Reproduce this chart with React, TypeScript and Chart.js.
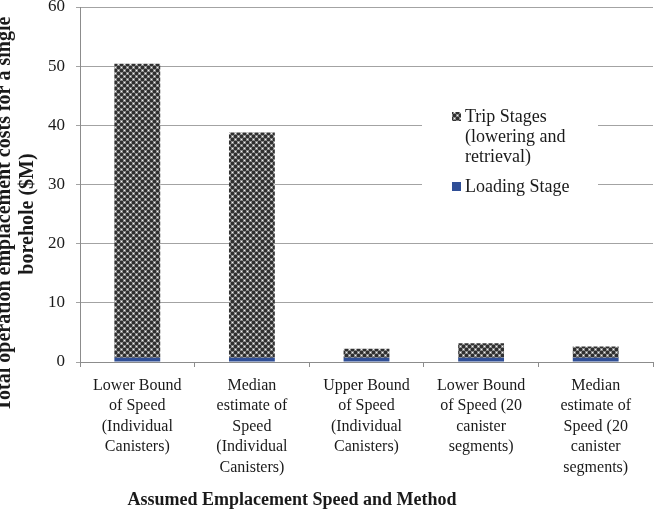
import React, { useEffect, useRef } from "react";
import { Chart, registerables } from "chart.js";

Chart.register(...registerables);

const categories: string[][] = [
  ["Lower Bound", "of Speed", "(Individual", "Canisters)"],
  ["Median", "estimate of", "Speed", "(Individual", "Canisters)"],
  ["Upper Bound", "of Speed", "(Individual", "Canisters)"],
  ["Lower Bound", "of Speed (20", "canister", "segments)"],
  ["Median", "estimate of", "Speed (20", "canister", "segments)"],
];
const loadingStage: number[] = [0.7, 0.7, 0.7, 0.7, 0.7];
const tripStages: number[] = [49.7, 38.1, 1.55, 2.45, 1.9];
const yTicks: number[] = [0, 10, 20, 30, 40, 50, 60];

const legendTrip: string[] = ["Trip Stages", "(lowering and", "retrieval)"];
const legendLoading = "Loading Stage";
const xTitle = "Assumed Emplacement Speed and Method";
const yTitle: string[] = ["Total operation emplacement costs for a single", "borehole ($M)"];

const SERIF = '"Liberation Serif", "Times New Roman", serif';
const BLUE = "#2F4E96";
const TEXT = "#1a1a1a";

function makePattern(): CanvasPattern | string {
  const c = document.createElement("canvas");
  const n = 6;
  c.width = n;
  c.height = n;
  const g = c.getContext("2d");
  if (!g) return "#555";
  const img = g.createImageData(n, n);
  const centers = [
    [1, 1],
    [4, 4],
  ];
  for (let y = 0; y < n; y++) {
    for (let x = 0; x < n; x++) {
      let d = 99;
      for (const [cx, cy] of centers) {
        for (let ox = -n; ox <= n; ox += n) {
          for (let oy = -n; oy <= n; oy += n) {
            const dd = Math.hypot(x - cx - ox, y - cy - oy);
            if (dd < d) d = dd;
          }
        }
      }
      const v = d < 0.5 ? 245 : d < 1.5 ? 135 : 48;
      const i = (y * n + x) * 4;
      img.data[i] = v;
      img.data[i + 1] = v;
      img.data[i + 2] = v;
      img.data[i + 3] = 255;
    }
  }
  g.putImageData(img, 0, 0);
  const p = g.createPattern(c, "repeat");
  return p || "#555";
}

export default function App() {
  const ref = useRef<HTMLCanvasElement | null>(null);

  useEffect(() => {
    const canvas = ref.current;
    if (!canvas) return;
    const pattern = makePattern();

    const decor = {
      id: "decor",
      afterDraw(chart: any) {
        const ctx = chart.ctx as CanvasRenderingContext2D;
        ctx.save();
        // legend box
        ctx.fillStyle = "#ffffff";
        ctx.fillRect(422, 98, 176, 104);
        ctx.fillStyle = pattern as any;
        ctx.fillRect(452, 112, 9, 9);
        ctx.fillStyle = BLUE;
        ctx.fillRect(452, 182, 9, 9);
        ctx.fillStyle = TEXT;
        ctx.font = `18px ${SERIF}`;
        ctx.textAlign = "left";
        ctx.textBaseline = "middle";
        legendTrip.forEach((t, i) => ctx.fillText(t, 465, 117 + i * 20));
        ctx.fillText(legendLoading, 465, 187);
        // x title
        ctx.font = `bold 18px ${SERIF}`;
        ctx.textAlign = "center";
        ctx.fillText(xTitle, 292, 500);
        // y title
        ctx.translate(0, 214);
        ctx.rotate(-Math.PI / 2);
        ctx.font = `bold 20px ${SERIF}`;
        ctx.textBaseline = "alphabetic";
        ctx.fillText(yTitle[0], 0, 10);
        ctx.fillText(yTitle[1], 0, 33);
        ctx.restore();
      },
    };

    const chart = new Chart(canvas, {
      type: "bar",
      data: {
        labels: categories,
        datasets: [
          {
            label: legendLoading,
            data: loadingStage,
            backgroundColor: BLUE,
            borderWidth: 0,
            barPercentage: 0.4,
            categoryPercentage: 1,
          },
          {
            label: legendTrip.join(" "),
            data: tripStages,
            backgroundColor: pattern as any,
            borderWidth: 0,
            barPercentage: 0.4,
            categoryPercentage: 1,
          },
        ],
      },
      options: {
        animation: false,
        responsive: false,
        devicePixelRatio: 1,
        layout: { padding: { top: 7, right: 10, left: 0, bottom: 0 } },
        plugins: {
          legend: { display: false },
          tooltip: { enabled: false },
          title: { display: false },
        },
        scales: {
          x: {
            stacked: true,
            afterFit: (s: any) => {
              s.height = 151;
              s.paddingLeft = 0;
              s.paddingRight = 0;
            },
            grid: {
              display: true,
              drawOnChartArea: false,
              drawTicks: true,
              tickLength: 5,
              offset: true,
              color: "#8c8c8c",
            },
            border: { color: "#8c8c8c" },
            ticks: {
              color: TEXT,
              padding: 8,
              maxRotation: 0,
              autoSkip: false,
              font: { family: SERIF, size: 16, lineHeight: 1.29 },
            },
          },
          y: {
            stacked: true,
            min: yTicks[0],
            max: yTicks[yTicks.length - 1],
            afterFit: (s: any) => {
              s.width = 80;
              s.paddingTop = 0;
              s.paddingBottom = 0;
            },
            afterBuildTicks: (s: any) => {
              s.ticks = yTicks.map((v) => ({ value: v }));
            },
            grid: { color: "#a3a3a3", tickLength: 4 },
            border: { color: "#8c8c8c" },
            ticks: {
              color: TEXT,
              padding: 11,
              font: { family: SERIF, size: 17 },
            },
          },
        },
      },
      plugins: [decor],
    });
    return () => chart.destroy();
  }, []);

  return (
    <div style={{ position: "fixed", left: 0, top: 0, width: 663, height: 513, background: "#fff" }}>
      <canvas ref={ref} width={663} height={513} style={{ width: 663, height: 513 }} />
    </div>
  );
}
